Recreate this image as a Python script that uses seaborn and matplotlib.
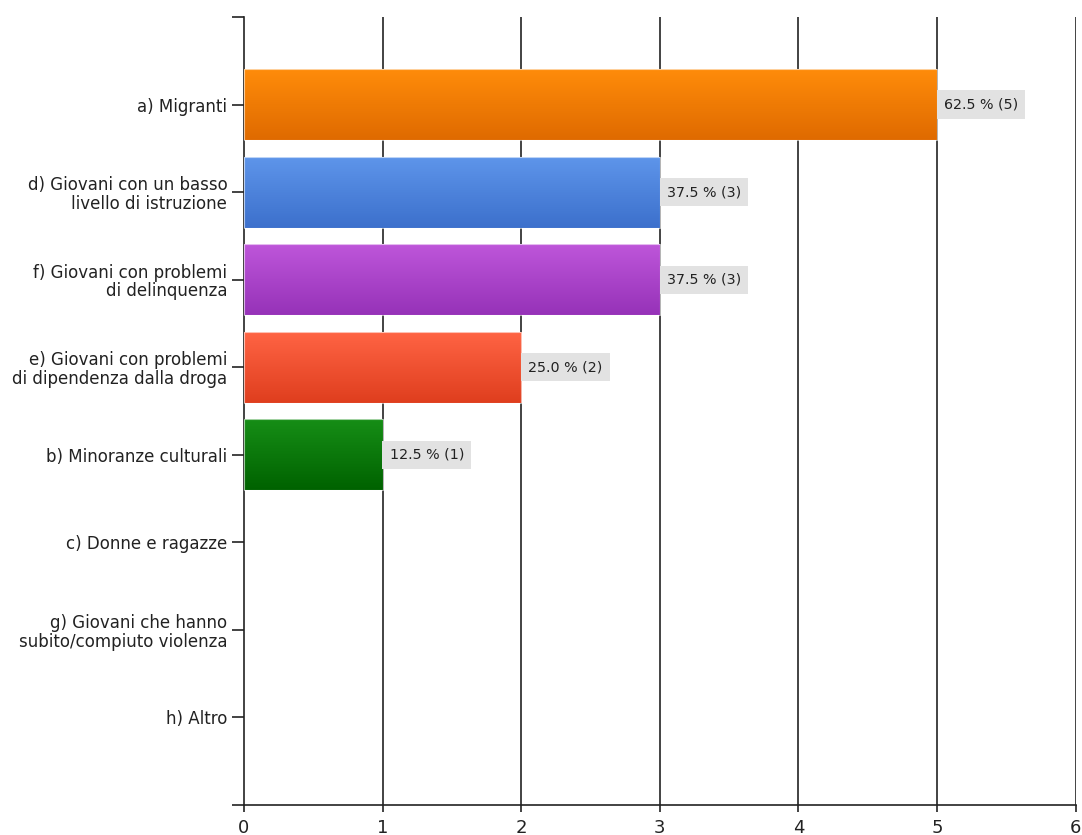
import numpy as np
import pandas as pd
import matplotlib
matplotlib.use("Agg")
import matplotlib.pyplot as plt
import seaborn as sns
from matplotlib.colors import LinearSegmentedColormap

categories = [
    "a) Migranti",
    "d) Giovani con un basso\nlivello di istruzione",
    "f) Giovani con problemi\ndi delinquenza",
    "e) Giovani con problemi\ndi dipendenza dalla droga",
    "b) Minoranze culturali",
    "c) Donne e ragazze",
    "g) Giovani che hanno\nsubito/compiuto violenza",
    "h) Altro",
]
counts = [5, 3, 3, 2, 1, 0, 0, 0]
total_respondents = 8
# (top colour, bottom colour) of each bar's vertical gradient
bar_colors = [
    ("#ff8c0a", "#df6a00"),
    ("#5e95ea", "#3c70cc"),
    ("#be56da", "#9632b8"),
    ("#ff6444", "#df3e1e"),
    ("#168e16", "#006200"),
    ("#999999", "#777777"),
    ("#999999", "#777777"),
    ("#999999", "#777777"),
]
x_ticks = [0, 1, 2, 3, 4, 5, 6]

df = pd.DataFrame({"categoria": categories, "conteggio": counts})

sns.set_theme(style="white")
plt.rcParams["font.family"] = ["DejaVu Sans"]

fig = plt.figure(figsize=(10.82, 8.35), dpi=100)
ax = fig.add_axes([0.2255, 0.0359, 0.994 - 0.2255, 0.9796 - 0.0359])

# vertical grid lines behind the bars
for xv in x_ticks[1:]:
    ax.axvline(xv, color="#222222", lw=1.2, zorder=0)

sns.barplot(data=df, x="conteggio", y="categoria", order=categories,
            color="#ffffff", width=0.81, ax=ax, zorder=2, edgecolor="none")

# vertical gradient fill clipped to each bar
grad = np.linspace(0, 1, 256).reshape(-1, 1)
for patch, (top, bottom), c in zip(ax.patches, bar_colors, counts):
    if c == 0:
        continue
    x0, y0 = patch.get_x(), patch.get_y()
    w, h = patch.get_width(), patch.get_height()
    cmap = LinearSegmentedColormap.from_list("g", [top, bottom])
    im = ax.imshow(grad, cmap=cmap, aspect="auto",
                   extent=(x0, x0 + w, y0 + h, y0), zorder=3,
                   interpolation="bilinear")
    im.set_clip_path(patch)
    patch.set_edgecolor("#ffffff")
    patch.set_linewidth(0.8)
    patch.set_alpha(0.6)
    patch.set_facecolor("none")
    patch.set_zorder(4)

# value labels with light grey box
for i, c in enumerate(counts):
    if c == 0:
        continue
    pct = c / total_respondents * 100
    ax.annotate(f"{pct:.1f} % ({c})", xy=(c, i), xytext=(7, 0),
                textcoords="offset pixels", ha="left", va="center",
                fontsize=10.3, color="#222222", zorder=5,
                bbox=dict(boxstyle="square,pad=0.5", fc="#e2e2e2", ec="none"))

ax.set_xlim(0, 6)
ax.set_ylim(8, -1)
ax.set_xticks(x_ticks)
ax.set_xticklabels([str(t) for t in x_ticks], fontsize=13)
ax.set_yticks([-1] + list(range(len(categories))) + [8])
ax.set_yticklabels([""] + categories + [""], fontsize=12, color="#222222",
                   linespacing=1.05)
ax.set_xlabel("")
ax.set_ylabel("")

for side in ["top", "right"]:
    ax.spines[side].set_visible(False)
for side in ["left", "bottom"]:
    ax.spines[side].set_color("#222222")
    ax.spines[side].set_linewidth(1.2)

ax.tick_params(axis="y", which="both", left=True, length=8.5, width=1.2,
               color="#222222", pad=3.5)
ax.tick_params(axis="x", which="both", bottom=True, length=5, width=1.2,
               color="#222222", pad=5, labelcolor="#222222")

fig.savefig("out.png", dpi=100, facecolor="white")
